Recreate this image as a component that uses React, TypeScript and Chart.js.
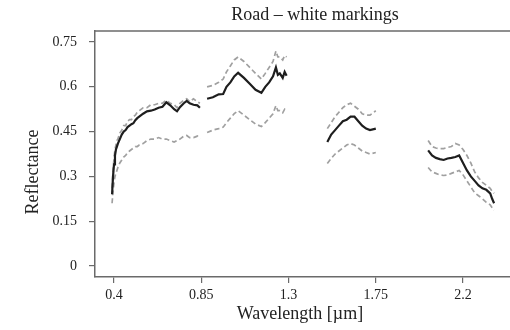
import React, { useEffect, useRef } from "react";
import { Chart, registerables } from "chart.js";

Chart.register(...registerables);

// Wavelength segments (µm), gaps are water-absorption bands
const WL1 = [0.39, 0.395, 0.4, 0.405, 0.41, 0.415, 0.42, 0.43, 0.44, 0.45, 0.46, 0.47, 0.48, 0.49, 0.5, 0.51, 0.52, 0.53, 0.55, 0.57, 0.59, 0.61, 0.63, 0.65, 0.67, 0.69, 0.71, 0.725, 0.74, 0.76, 0.775, 0.79, 0.81, 0.83, 0.843];
const MEAN1 = [0.24, 0.3, 0.34, 0.37, 0.39, 0.4, 0.41, 0.425, 0.44, 0.45, 0.455, 0.465, 0.47, 0.475, 0.478, 0.488, 0.495, 0.5, 0.51, 0.518, 0.52, 0.524, 0.53, 0.533, 0.548, 0.538, 0.525, 0.518, 0.532, 0.545, 0.553, 0.545, 0.54, 0.538, 0.53];
const UP1 = [0.26, 0.32, 0.36, 0.39, 0.405, 0.42, 0.425, 0.445, 0.455, 0.47, 0.47, 0.485, 0.49, 0.49, 0.5, 0.505, 0.515, 0.52, 0.53, 0.53, 0.54, 0.54, 0.545, 0.545, 0.555, 0.545, 0.54, 0.53, 0.545, 0.555, 0.56, 0.55, 0.56, 0.55, 0.545];
const LOW1 = [0.21, 0.25, 0.28, 0.3, 0.31, 0.32, 0.33, 0.345, 0.355, 0.365, 0.37, 0.38, 0.385, 0.39, 0.395, 0.4, 0.4, 0.405, 0.41, 0.42, 0.425, 0.425, 0.43, 0.425, 0.425, 0.42, 0.415, 0.42, 0.425, 0.435, 0.437, 0.43, 0.43, 0.435, 0.425];

const WL2 = [0.88, 0.91, 0.94, 0.963, 0.98, 1.0, 1.02, 1.04, 1.07, 1.1, 1.13, 1.16, 1.18, 1.2, 1.22, 1.235, 1.245, 1.255, 1.27, 1.28, 1.29];
const MEAN2 = [0.56, 0.565, 0.575, 0.576, 0.6, 0.615, 0.635, 0.647, 0.63, 0.61, 0.59, 0.58, 0.6, 0.615, 0.635, 0.665, 0.64, 0.645, 0.63, 0.65, 0.637];
const UP2 = [0.6, 0.605, 0.615, 0.626, 0.65, 0.67, 0.69, 0.7, 0.685, 0.665, 0.645, 0.626, 0.645, 0.665, 0.685, 0.72, 0.7, 0.7, 0.69, 0.705, 0.7];
const LOW2 = [0.447, 0.455, 0.46, 0.465, 0.48, 0.495, 0.51, 0.52, 0.505, 0.49, 0.475, 0.467, 0.48, 0.495, 0.51, 0.537, 0.52, 0.52, 0.513, 0.525, 0.52];

const WL3 = [1.5, 1.52, 1.54, 1.56, 1.58, 1.6, 1.62, 1.64, 1.66, 1.68, 1.7, 1.72, 1.75];
const MEAN3 = [0.415, 0.44, 0.455, 0.47, 0.485, 0.49, 0.5, 0.5, 0.485, 0.47, 0.46, 0.455, 0.46];
const UP3 = [0.46, 0.48, 0.5, 0.515, 0.53, 0.54, 0.545, 0.535, 0.525, 0.51, 0.505, 0.505, 0.52];
const LOW3 = [0.343, 0.36, 0.375, 0.385, 0.395, 0.405, 0.41, 0.405, 0.395, 0.385, 0.38, 0.375, 0.38];

const WL4 = [2.02, 2.04, 2.06, 2.08, 2.1, 2.12, 2.14, 2.16, 2.18, 2.2, 2.22, 2.24, 2.26, 2.28, 2.3, 2.32, 2.34, 2.35, 2.36];
const MEAN4 = [0.387, 0.37, 0.362, 0.358, 0.355, 0.36, 0.362, 0.365, 0.37, 0.345, 0.32, 0.3, 0.285, 0.27, 0.26, 0.255, 0.243, 0.225, 0.21];
const UP4 = [0.42, 0.4, 0.395, 0.393, 0.393, 0.397, 0.4, 0.41, 0.405, 0.39, 0.37, 0.345, 0.315, 0.295, 0.28, 0.27, 0.26, 0.25, 0.243];
const LOW4 = [0.33, 0.315, 0.31, 0.305, 0.303, 0.305, 0.31, 0.315, 0.32, 0.305, 0.285, 0.265, 0.245, 0.235, 0.225, 0.213, 0.205, 0.195, 0.187];

const X_TICKS = [0.4, 0.85, 1.3, 1.75, 2.2];
const Y_TICKS = [0, 0.15, 0.3, 0.45, 0.6, 0.75];

const TITLE = "Road – white markings";
const X_LABEL = "Wavelength [µm]";
const Y_LABEL = "Reflectance";

const SEGMENTS = [
  { wl: WL1, mean: MEAN1, up: UP1, low: LOW1 },
  { wl: WL2, mean: MEAN2, up: UP2, low: LOW2 },
  { wl: WL3, mean: MEAN3, up: UP3, low: LOW3 },
  { wl: WL4, mean: MEAN4, up: UP4, low: LOW4 },
];

function build(key: "mean" | "up" | "low") {
  const out: { x: number; y: number | null }[] = [];
  SEGMENTS.forEach((s, i) => {
    s.wl.forEach((w, j) => out.push({ x: w, y: s[key][j] }));
    if (i < SEGMENTS.length - 1) {
      const gapX = (s.wl[s.wl.length - 1] + SEGMENTS[i + 1].wl[0]) / 2;
      out.push({ x: gapX, y: null });
    }
  });
  return out;
}

const FONT = "'Liberation Serif', 'DejaVu Serif', serif";
const AXIS_COLOR = "#6a6a6a";

const textPlugin = {
  id: "texts",
  afterDraw(chart: any) {
    const { ctx, chartArea } = chart;
    ctx.save();
    // top frame line
    ctx.strokeStyle = AXIS_COLOR;
    ctx.lineWidth = 1.5;
    ctx.beginPath();
    ctx.moveTo(chartArea.left, chartArea.top);
    ctx.lineTo(chartArea.right, chartArea.top);
    ctx.stroke();

    ctx.fillStyle = "#222";
    ctx.textAlign = "center";
    ctx.textBaseline = "middle";
    ctx.font = `18px ${FONT}`;
    ctx.fillText(TITLE, 315, 15);
    ctx.fillText(X_LABEL, 300, 314);
    ctx.translate(33, 172);
    ctx.rotate(-Math.PI / 2);
    ctx.fillText(Y_LABEL, 0, 0);
    ctx.restore();
  },
};

export default function App() {
  const ref = useRef<HTMLCanvasElement | null>(null);

  useEffect(() => {
    if (!ref.current) return;
    const chart = new Chart(ref.current, {
      type: "line",
      data: {
        datasets: [
          {
            data: build("up"),
            borderColor: "#a0a0a0",
            borderWidth: 1.7,
            borderDash: [5, 3],
            pointRadius: 0,
            spanGaps: false,
            order: 2,
          },
          {
            data: build("low"),
            borderColor: "#a0a0a0",
            borderWidth: 1.7,
            borderDash: [5, 3],
            pointRadius: 0,
            spanGaps: false,
            order: 2,
          },
          {
            data: build("mean"),
            borderColor: "#1e1e1e",
            borderWidth: 2.2,
            pointRadius: 0,
            spanGaps: false,
            order: 1,
          },
        ] as any,
      },
      options: {
        animation: false,
        responsive: false,
        maintainAspectRatio: false,
        layout: { padding: { left: 0, right: 5, top: 31, bottom: 0 } },
        plugins: {
          legend: { display: false },
          title: { display: false },
          tooltip: { enabled: false },
        },
        scales: {
          x: {
            type: "linear",
            min: 0.302,
            max: 2.571,
            afterBuildTicks: (s: any) => {
              s.ticks = X_TICKS.map((v) => ({ value: v }));
            },
            afterFit: (s: any) => {
              s.height = 53;
            },
            ticks: {
              color: "#222",
              font: { family: FONT, size: 14 },
              padding: 4,
              maxRotation: 0,
              callback: (v: any) => String(v),
            },
            grid: {
              drawOnChartArea: false,
              drawTicks: true,
              tickLength: 6,
              color: AXIS_COLOR,
              lineWidth: 1.2,
            },
            border: { display: true, color: AXIS_COLOR, width: 1.5 },
          },
          y: {
            type: "linear",
            min: -0.037,
            max: 0.787,
            afterBuildTicks: (s: any) => {
              s.ticks = Y_TICKS.map((v) => ({ value: v }));
            },
            afterFit: (s: any) => {
              s.width = 95;
            },
            ticks: {
              color: "#222",
              font: { family: FONT, size: 14 },
              padding: 12,
              callback: (v: any) => String(v),
            },
            grid: {
              drawOnChartArea: false,
              drawTicks: true,
              tickLength: 6,
              color: AXIS_COLOR,
              lineWidth: 1.2,
            },
            border: { display: true, color: AXIS_COLOR, width: 1.5 },
          },
        },
      },
      plugins: [textPlugin],
    });
    return () => chart.destroy();
  }, []);

  return (
    <div
      style={{
        position: "fixed",
        left: 0,
        top: 0,
        width: 510,
        height: 330,
        overflow: "hidden",
        background: "#fff",
      }}
    >
      <canvas ref={ref} width={540} height={330} style={{ width: 540, height: 330, display: "block" }} />
    </div>
  );
}
